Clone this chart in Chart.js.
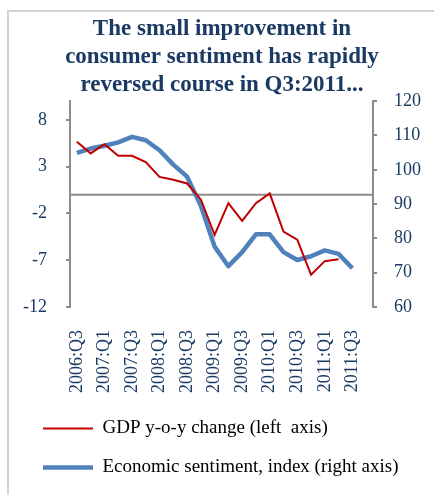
<!DOCTYPE html>
<html>
<head>
<meta charset="utf-8">
<script src="https://cdn.jsdelivr.net/npm/chart.js@4.4.1/dist/chart.umd.min.js"></script>
<style>
  html, body { margin: 0; padding: 0; background: #ffffff; }
  #wrap { position: relative; width: 434px; height: 495px; overflow: hidden; }
  #frame { position: absolute; left: 7px; top: 10px; width: 600px; height: 600px;
           border: 2px solid #d2d2d2; box-sizing: border-box; }
  #c { position: absolute; left: 0; top: 0; }
</style>
</head>
<body>
<div id="wrap">
  <div id="frame"></div>
  <canvas id="c" width="434" height="495"></canvas>
</div>
<script>
// Quarters shown on the category axis (every second one is labelled)
const quarters = [
  '2006:Q3', '2006:Q4', '2007:Q1', '2007:Q2', '2007:Q3', '2007:Q4',
  '2008:Q1', '2008:Q2', '2008:Q3', '2008:Q4', '2009:Q1', '2009:Q2',
  '2009:Q3', '2009:Q4', '2010:Q1', '2010:Q2', '2010:Q3', '2010:Q4',
  '2011:Q1', '2011:Q2', '2011:Q3', '2011:Q4'
];

// GDP, year-on-year change in percent (left axis)
const gdpChange = [
  5.66, 4.42, 5.4, 4.17, 4.17, 3.5, 1.9, 1.6, 1.2, -0.5,
  -4.3, -0.9, -2.8, -0.9, 0.15, -3.95, -4.8, -8.55, -7.1, -6.9
];

// Economic sentiment indicator (right axis)
const sentiment = [
  104.9, 106.2, 107.0, 108.0, 109.6, 108.6, 105.7, 101.5, 98.0, 89.5,
  77.6, 71.9, 76.0, 81.2, 81.2, 76.0, 73.7, 74.8, 76.5, 75.5, 71.3
];

// Axis tick values
const leftTicks = [-12, -7, -2, 3, 8];
const rightTicks = [60, 70, 80, 90, 100, 110, 120];

const titleLines = [
  'The small improvement in',
  'consumer sentiment has rapidly',
  'reversed course in Q3:2011...'
];

const serif = "'Liberation Serif', 'Times New Roman', serif";
const navy = '#1B3A63';
const axisGray = '#8c8c8c';

// Horizontal reference line at zero on the left axis
const zeroLine = {
  id: 'zeroLine',
  beforeDatasetsDraw(chart) {
    const { ctx, chartArea, scales } = chart;
    const y = scales.y.getPixelForValue(0);
    ctx.save();
    ctx.strokeStyle = axisGray;
    ctx.lineWidth = 2;
    ctx.beginPath();
    ctx.moveTo(chartArea.left, y);
    ctx.lineTo(chartArea.right, y);
    ctx.stroke();
    ctx.restore();
  }
};

// Value axes reserve tick padding only once (between labels and tick marks)
const trimValueAxis = (scale) => { scale.width -= scale.options.ticks.padding; };

new Chart(document.getElementById('c'), {
  type: 'line',
  data: {
    labels: quarters,
    datasets: [
      {
        label: 'GDP y-o-y change (left  axis)',
        data: gdpChange,
        yAxisID: 'y',
        borderColor: '#C00000',
        backgroundColor: '#C00000',
        borderWidth: 2,
        pointRadius: 0,
        pointStyle: 'line',
        tension: 0
      },
      {
        label: 'Economic sentiment, index (right axis)',
        data: sentiment,
        yAxisID: 'y2',
        borderColor: '#4F81BD',
        backgroundColor: '#4F81BD',
        borderWidth: 4.5,
        pointRadius: 0,
        pointStyle: 'line',
        tension: 0,
        borderJoinStyle: 'round'
      }
    ]
  },
  options: {
    responsive: false,
    animation: false,
    layout: { padding: { top: 10, left: 23, right: 13, bottom: 8 } },
    plugins: {
      title: {
        display: true,
        text: titleLines,
        color: navy,
        font: { family: serif, size: 23, weight: 'bold', lineHeight: 1.22 },
        padding: { top: 5, bottom: 2 }
      },
      legend: {
        display: true,
        position: 'bottom',
        align: 'start',
        labels: {
          usePointStyle: true,
          pointStyleWidth: 50,
          color: '#000000',
          font: { family: serif, size: 19 },
          padding: 20
        }
      },
      tooltip: { enabled: false }
    },
    scales: {
      x: {
        type: 'category',
        offset: true,
        grid: { display: false, drawTicks: false },
        border: { display: false },
        // rotated labels sit under their ticks; no side padding needed
        afterFit: (scale) => {
          scale.paddingLeft = 0;
          scale.paddingRight = 0;
          scale.height = 92;
        },
        ticks: {
          autoSkip: false,
          minRotation: 90,
          maxRotation: 90,
          padding: 23,
          color: navy,
          font: { family: serif, size: 18 },
          callback: (v, i) => (i % 2 === 0 ? quarters[i] : '')
        }
      },
      y: {
        position: 'left',
        min: -12,
        max: 10,
        afterBuildTicks: (scale) => { scale.ticks = leftTicks.map(v => ({ value: v })); },
        afterFit: trimValueAxis,
        grid: { drawOnChartArea: false, drawTicks: true, tickLength: 4, color: axisGray, lineWidth: 2 },
        border: { display: true, color: axisGray, width: 2 },
        ticks: { padding: 19, color: navy, font: { family: serif, size: 18 } }
      },
      y2: {
        position: 'right',
        min: 60,
        max: 120,
        afterBuildTicks: (scale) => { scale.ticks = rightTicks.map(v => ({ value: v })); },
        afterFit: trimValueAxis,
        grid: { drawOnChartArea: false, drawTicks: true, tickLength: 4, color: axisGray, lineWidth: 2 },
        border: { display: true, color: axisGray, width: 2 },
        ticks: { padding: 17, color: navy, font: { family: serif, size: 18 } }
      }
    }
  },
  plugins: [zeroLine]
});
</script>
</body>
</html>
